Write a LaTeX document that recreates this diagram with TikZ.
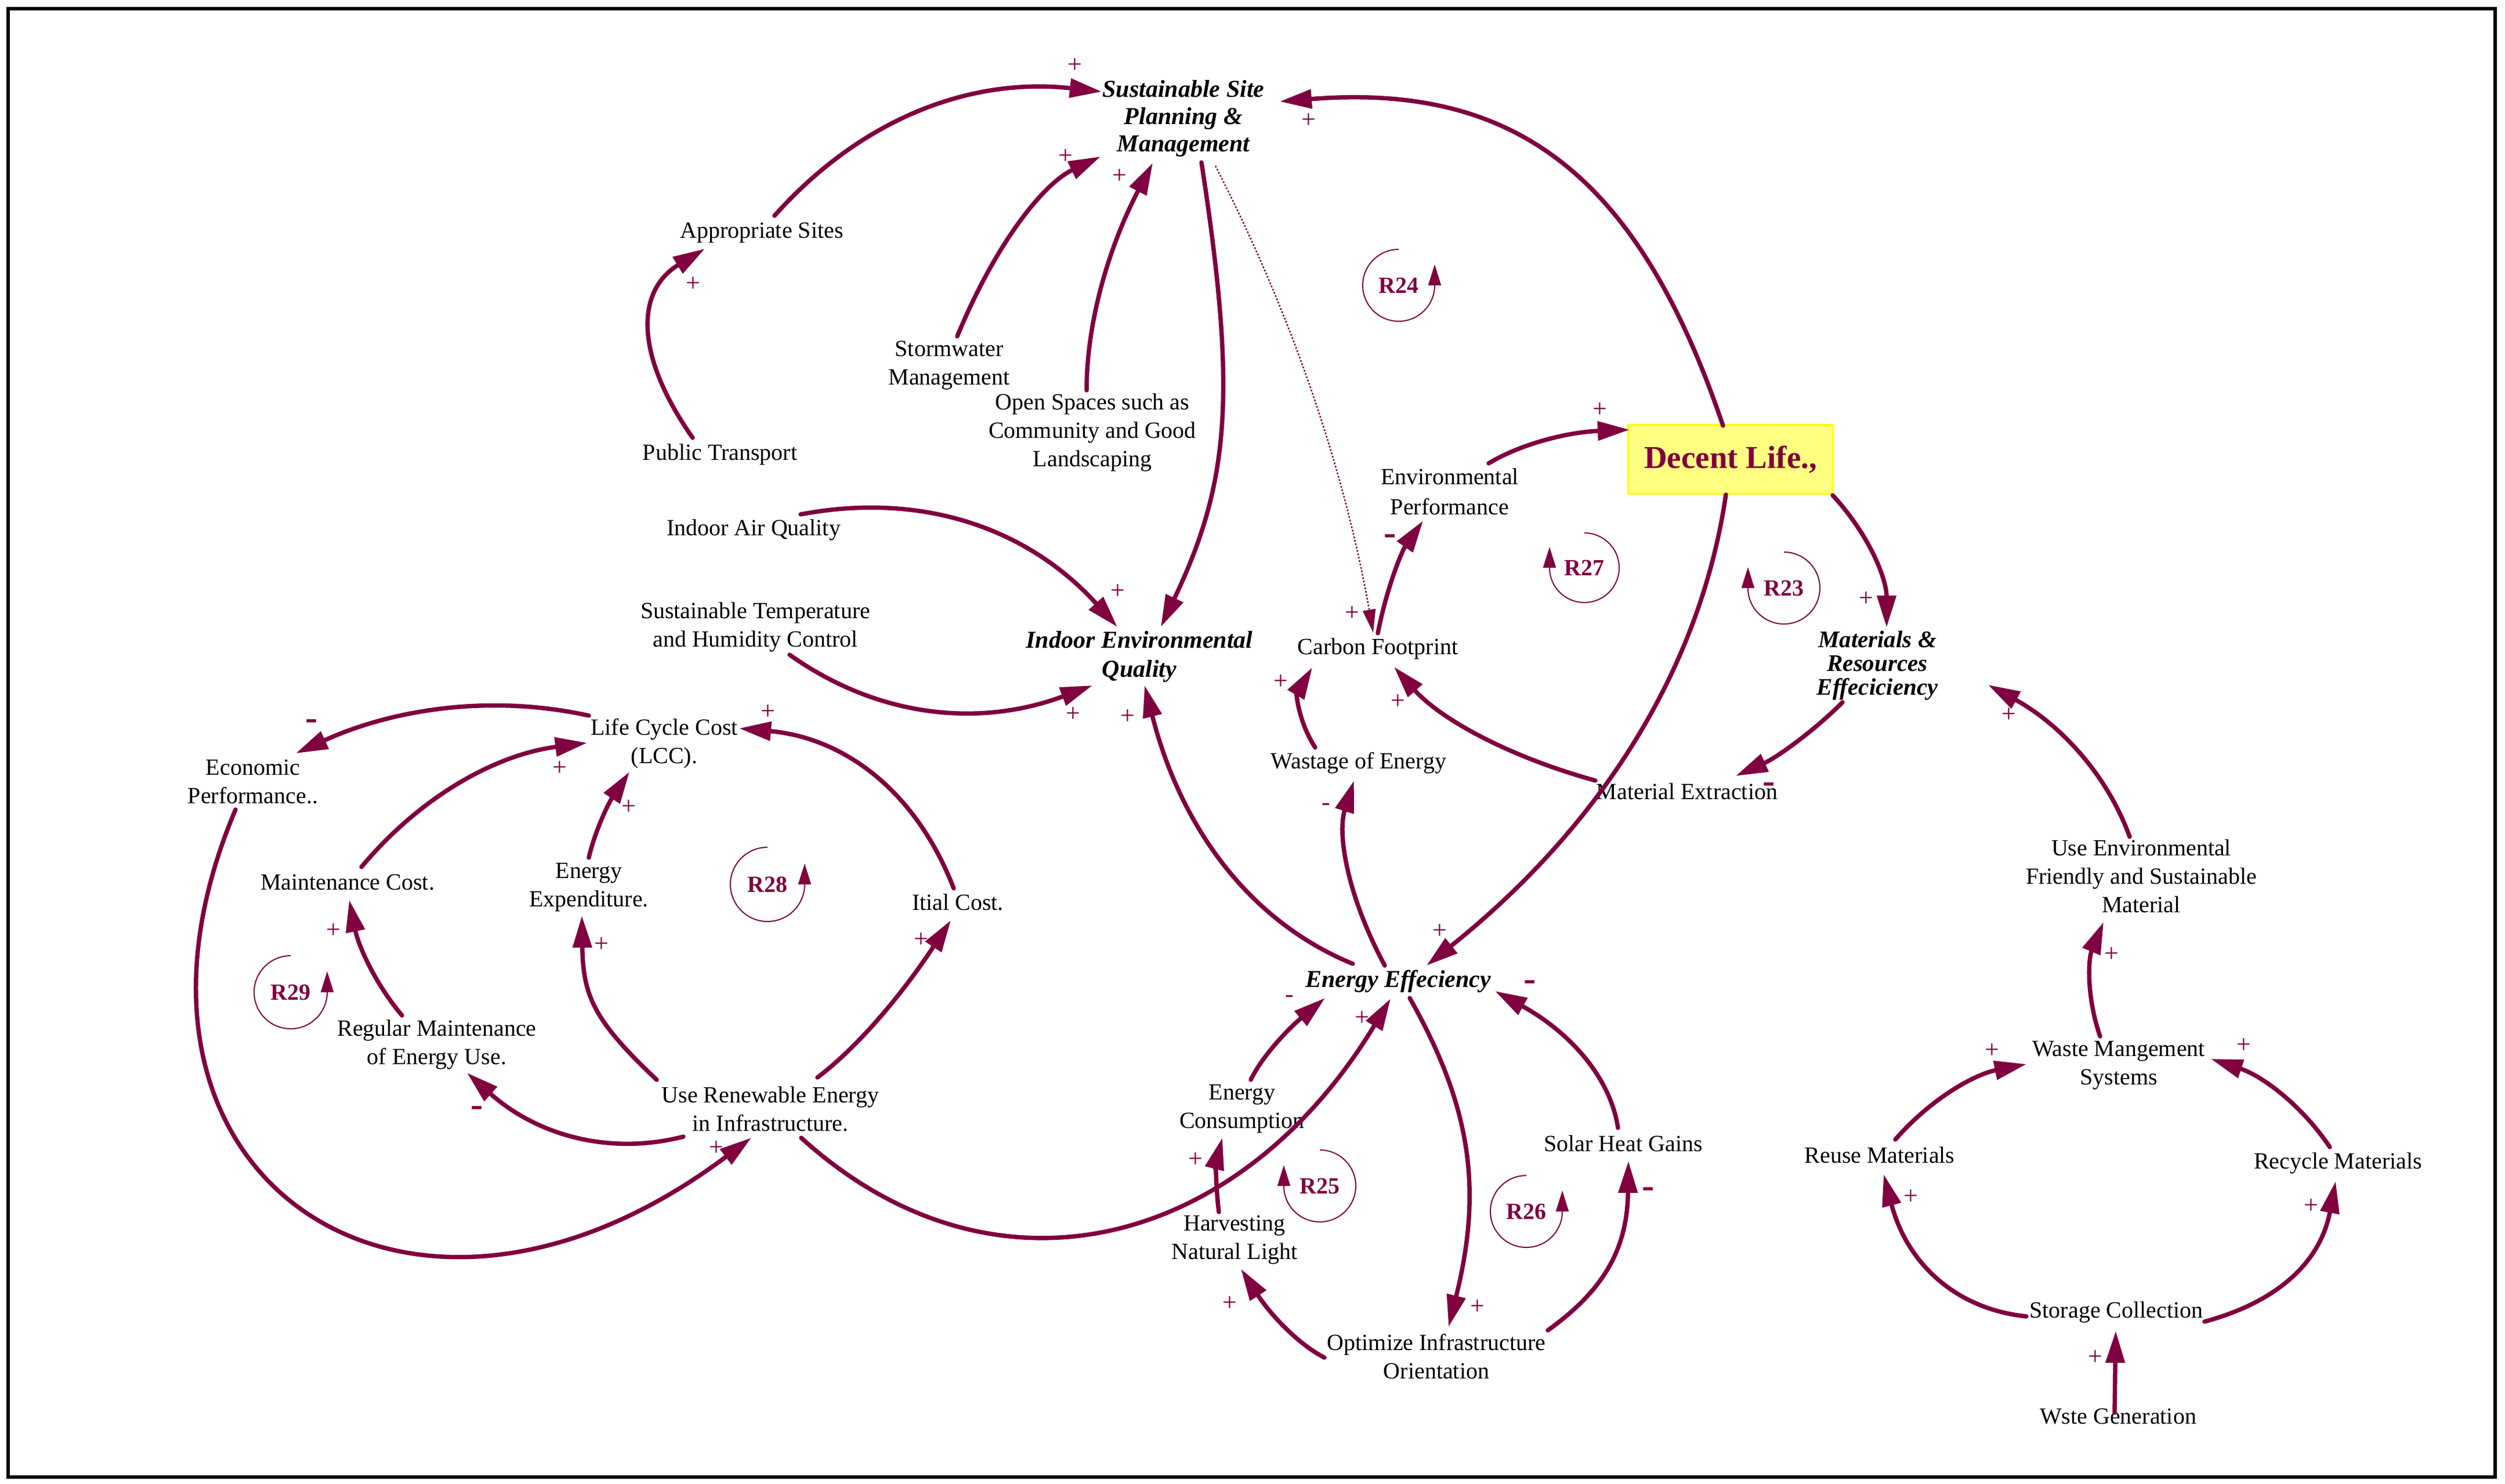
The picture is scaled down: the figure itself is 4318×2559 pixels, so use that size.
\documentclass[tikz,border=0pt]{standalone}
\usepackage{fontspec}
\setmainfont{Liberation Serif}
\usetikzlibrary{arrows.meta,calc}
\definecolor{vc}{RGB}{128,0,64}
\definecolor{yb}{RGB}{255,255,0}
\definecolor{yf}{RGB}{255,255,128}
\begin{document}
\begin{tikzpicture}[x=1pt,y=-1pt,
  lbl/.style={font=\fontsize{40}{49}\selectfont, align=center, inner sep=0pt},
  keyv/.style={font=\fontsize{42}{47}\selectfont\bfseries\itshape, align=center, inner sep=0pt},
  pol/.style={text=vc, font=\fontsize{44}{44}\selectfont, inner sep=0pt},
  negb/.style={text=vc, font=\fontsize{64}{64}\selectfont\bfseries, inner sep=0pt},
  arr/.style={draw=vc, line width=7.5pt, line cap=round, -{Triangle[length=55pt,width=32pt]}},
  dotarr/.style={draw=vc, line width=2.5pt, dash pattern=on 3pt off 3pt, -{Triangle[length=40pt,width=22pt]}},
  loopc/.style={draw=vc, line width=2pt, -{Triangle[length=36pt,width=22pt]}},
  looplbl/.style={text=vc, font=\fontsize{40}{40}\selectfont\bfseries, inner sep=0pt},
]
\useasboundingbox (0,0) rectangle (4318,2559);
\fill[white] (0,0) rectangle (4318,2559);
\draw[line width=6pt] (14,15) rectangle (4301,2547);

% ---- nodes ----
\node[keyv] (ss) at (2040,204) {Sustainable Site\\Planning \&\\Management};
\node[lbl] (as) at (1313,402) {Appropriate Sites};
\node[lbl] (pt) at (1241,784) {Public Transport};
\node[lbl] (sw) at (1636,630) {Stormwater\\Management};
\node[lbl] (os) at (1883,746) {Open Spaces such as\\Community and Good\\Landscaping};
\node[lbl] (iaq) at (1299,914) {Indoor Air Quality};
\node[lbl] (sthc) at (1302,1081) {Sustainable Temperature\\and Humidity Control};
\node[keyv, font=\fontsize{42}{50}\selectfont\bfseries\itshape] (ieq) at (1964,1132) {Indoor Environmental\\Quality};
\node[lbl] (cf) at (2375,1119) {Carbon Footprint};
\node[lbl, font=\fontsize{40}{52}\selectfont] (ep) at (2499,848) {Environmental\\Performance};
\node[draw=yb, fill=yf, line width=3pt, minimum width=353pt, minimum height=119pt, inner sep=0pt,
      text=vc, font=\fontsize{55}{60}\selectfont\bfseries] (dl) at (2983,792) {Decent Life.,};
\node[keyv, font=\fontsize{41}{41}\selectfont\bfseries\itshape] (mr) at (3236,1148) {Materials \&\\Resources\\Effeciciency};
\node[lbl] (me) at (2908,1365) {Material Extraction};
\node[lbl] (we) at (2342,1316) {Wastage of Energy};
\node[lbl] (lcc) at (1145,1282) {Life Cycle Cost\\(LCC).};
\node[lbl] (ecp) at (436,1348) {Economic\\Performance..};
\node[lbl] (mc) at (599,1522) {Maintenance Cost.};
\node[lbl] (rm) at (753,1801) {Regular Maintenance\\of Energy Use.};
\node[lbl] (ex) at (1015,1530) {Energy\\Expenditure.};
\node[lbl] (ic) at (1651,1556) {Itial Cost.};
\node[lbl] (ur) at (1328,1912) {Use Renewable Energy\\in Infrastructure.};
\node[keyv] (ee) at (2410,1692) {Energy Effeciency};
\node[lbl] (ec) at (2141,1912) {Energy\\Consumption};
\node[lbl] (hn) at (2128,2138) {Harvesting\\Natural Light};
\node[lbl] (oi) at (2476,2339) {Optimize Infrastructure\\Orientation};
\node[lbl] (sh) at (2798,1972) {Solar Heat Gains};
\node[lbl] (ue) at (3691,1511) {Use Environmental\\Friendly and Sustainable\\Material};
\node[lbl] (wm) at (3652,1837) {Waste Mangement\\Systems};
\node[lbl] (rum) at (3240,1992) {Reuse Materials};
\node[lbl] (rcm) at (4030,2006) {Recycle Materials};
\node[lbl] (sc) at (3648,2263) {Storage Collection};
\node[lbl] (wg) at (3651,2443) {Wste Generation};

% ---- connectors ----
\draw[arr] ($(as)+(22,-30)$) .. controls (1485,204) and (1673,133) .. ($(ss)+(-141,-46)$);
\draw[arr] ($(dl)+(-13,-58)$) .. controls (2823,299) and (2609,143) .. ($(ss)+(166,-29)$);
\draw[arr] ($(sw)+(14,-50)$) .. controls (1716,420) and (1798,317) .. ($(ss)+(-143,66)$);
\draw[arr] ($(os)+(-10,-73)$) .. controls (1873,556) and (1911,426) .. ($(ss)+(-53,77)$);
\draw[arr] ($(pt)+(-47,-29)$) .. controls (1091,608) and (1098,500) .. ($(as)+(-98,27)$);
\draw[arr] ($(ss)+(31,76)$) .. controls (2133,682) and (2119,833) .. ($(ieq)+(37,-51)$);
\draw[dotarr] ($(ss)+(55,82)$) .. controls (2227,543) and (2318,812) .. ($(cf)+(-8,-28)$);
\draw[arr] ($(ep)+(67,-49)$) .. controls (2624,764) and (2705,745) .. ($(dl)+(-174,-51)$);
\draw[arr] ($(cf)+(0,-27)$) .. controls (2390,1015) and (2416,951) .. ($(ep)+(-46,50)$);
\draw[arr] ($(dl)+(176,62)$) .. controls (3221,921) and (3252,997) .. ($(mr)+(16,-66)$);
\draw[arr] ($(mr)+(-60,63)$) .. controls (3123,1264) and (3061,1307) .. ($(me)+(84,-27)$);
\draw[arr] ($(me)+(-158,-19)$) .. controls (2598,1304) and (2482,1239) .. ($(cf)+(28,31)$);
\draw[arr] ($(we)+(-75,-27)$) .. controls (2237,1242) and (2235,1196) .. ($(cf)+(-113,32)$);
\draw[arr] ($(ee)+(-23,-27)$) .. controls (2322,1544) and (2305,1438) .. ($(we)+(-8,30)$);
\draw[arr] ($(dl)+(-8,61)$) .. controls (2931,1154) and (2759,1425) .. ($(ee)+(49,-27)$);
\draw[arr] ($(ue)+(-20,-68)$) .. controls (3632,1335) and (3550,1248) .. ($(mr)+(191,33)$);
\draw[arr] ($(lcc)+(-130,-48)$) .. controls (852,1198) and (684,1220) .. ($(ecp)+(74,-49)$);
\draw[arr] ($(mc)+(24,-27)$) .. controls (726,1372) and (856,1301) .. ($(lcc)+(-133,-1)$);
\draw[arr] ($(rm)+(-60,-50)$) .. controls (648,1698) and (618,1632) .. ($(mc)+(3,30)$);
\draw[arr] ($(ur)+(-150,48)$) .. controls (1049,1993) and (925,1957) .. ($(rm)+(52,49)$);
\draw[arr] ($(ex)+(0,-51)$) .. controls (1024,1438) and (1047,1388) .. ($(lcc)+(-60,49)$);
\draw[arr] ($(ur)+(-196,-50)$) .. controls (1024,1760) and (1005,1718) .. ($(ex)+(-12,49)$);
\draw[arr] ($(ic)+(-7,-24)$) .. controls (1579,1364) and (1455,1272) .. ($(lcc)+(129,-26)$);
\draw[arr] ($(ur)+(81,-54)$) .. controls (1478,1806) and (1554,1716) .. ($(ic)+(-12,31)$);
\draw[arr] ($(ecp)+(-30,48)$) .. controls (141,2022) and (695,2412) .. ($(ur)+(-33,50)$);
\draw[arr] ($(ur)+(53,50)$) .. controls (1714,2264) and (2137,2152) .. ($(ee)+(-13,30)$);
\draw[arr] ($(ee)+(-78,-30)$) .. controls (2156,1590) and (2036,1430) .. ($(ieq)+(9,50)$);
\draw[arr] ($(iaq)+(81,-27)$) .. controls (1591,847) and (1773,912) .. ($(ieq)+(-38,-51)$);
\draw[arr] ($(sthc)+(59,48)$) .. controls (1513,1237) and (1687,1255) .. ($(ieq)+(-81,50)$);
\draw[arr] ($(ec)+(15,-50)$) .. controls (2173,1826) and (2215,1779) .. ($(ee)+(-126,29)$);
\draw[arr] ($(hn)+(-27,-48)$) .. controls (2095,2043) and (2097,2001) .. ($(ec)+(-34,50)$);
\draw[arr] ($(ee)+(20,29)$) .. controls (2538,1912) and (2555,2054) .. ($(oi)+(21,-51)$);
\draw[arr] ($(oi)+(-193,2)$) .. controls (2238,2318) and (2190,2267) .. ($(hn)+(11,50)$);
\draw[arr] ($(oi)+(192,-45)$) .. controls (2770,2221) and (2805,2148) .. ($(sh)+(9,30)$);
\draw[arr] ($(sh)+(-9,-27)$) .. controls (2776,1858) and (2706,1780) .. ($(ee)+(167,17)$);
\draw[arr] ($(wm)+(-32,-50)$) .. controls (3597,1721) and (3599,1655) .. ($(ue)+(-65,79)$);
\draw[arr] ($(rum)+(27,-27)$) .. controls (3327,1896) and (3402,1853) .. ($(wm)+(-159,-2)$);
\draw[arr] ($(rcm)+(-14,-28)$) .. controls (3967,1905) and (3899,1855) .. ($(wm)+(159,-11)$);
\draw[arr] ($(sc)+(-155,7)$) .. controls (3368,2257) and (3286,2175) .. ($(rum)+(7,33)$);
\draw[arr] ($(sc)+(152,16)$) .. controls (3933,2243) and (4001,2171) .. ($(rcm)+(-4,31)$);
\draw[arr] ($(wg)+(-6,-7)$) -- ($(sc)+(-1,32)$);

% ---- polarities ----
\node[pol] (p1) at (1853,113) {+};
\node[pol] (p2) at (2256,208) {+};
\node[pol] (p3) at (1837,270) {+};
\node[pol] (p4) at (1930,304) {+};
\node[pol] (p5) at (1195,490) {+};
\node[pol] (p7) at (2331,1058) {+};
\node[pol] (p8) at (2758,707) {+};
\node[pol] (p10) at (3217,1033) {+};
\node[pol] (p12) at (2410,1210) {+};
\node[pol] (p13) at (2208,1176) {+};
\node[pol] (p15) at (2482,1606) {+};
\node[pol] (p16) at (3463,1233) {+};
\node[pol] (p18) at (965,1325) {+};
\node[pol] (p19) at (575,1605) {+};
\node[pol] (p21) at (1084,1392) {+};
\node[pol] (p22) at (1037,1629) {+};
\node[pol] (p23) at (1324,1228) {+};
\node[pol] (p24) at (1588,1621) {+};
\node[pol] (p25) at (1235,1980) {+};
\node[pol] (p26) at (2348,1756) {+};
\node[pol] (p27) at (1944,1236) {+};
\node[pol] (p28) at (1927,1020) {+};
\node[pol] (p29) at (1850,1232) {+};
\node[pol] (p31) at (2061,2000) {+};
\node[pol] (p32) at (2547,2254) {+};
\node[pol] (p33) at (2120,2248) {+};
\node[pol] (p36) at (3640,1646) {+};
\node[pol] (p37) at (3434,1812) {+};
\node[pol] (p38) at (3868,1803) {+};
\node[pol] (p39) at (3294,2064) {+};
\node[pol] (p40) at (3984,2080) {+};
\node[pol] (p41) at (3612,2341) {+};
\node[negb] (n9) at (2396,931) {-};
\node[negb] (n11) at (3049,1359) {-};
\node[negb] (n17) at (537,1250) {-};
\node[negb] (n20) at (822,1917) {-};
\node[negb] (n34) at (2841,2057) {-};
\node[negb] (n35) at (2637,1700) {-};
\node[pol] (n14) at (2286,1391) {-};
\node[pol] (n30) at (2223,1722) {-};

% ---- loop markers ----
\node[looplbl] (r24) at (2411,492) {R24};
\draw[loopc] ([yshift=62pt]r24.center) arc[start angle=90,end angle=360,radius=62pt] -- ++(0pt,36pt);
\node[looplbl] (r28) at (1323,1525) {R28};
\draw[loopc] ([yshift=64pt]r28.center) arc[start angle=90,end angle=360,radius=64pt] -- ++(0pt,36pt);
\node[looplbl] (r29) at (501,1711) {R29};
\draw[loopc] ([yshift=63pt]r29.center) arc[start angle=90,end angle=360,radius=63pt] -- ++(0pt,36pt);
\node[looplbl] (r26) at (2631,2089) {R26};
\draw[loopc] ([yshift=62pt]r26.center) arc[start angle=90,end angle=360,radius=62pt] -- ++(0pt,36pt);
\node[looplbl] (r27) at (2731,979) {R27};
\draw[loopc] ([yshift=60pt]r27.center) arc[start angle=90,end angle=-180,radius=60pt] -- ++(0pt,36pt);
\node[looplbl] (r23) at (3075,1014) {R23};
\draw[loopc] ([yshift=62pt]r23.center) arc[start angle=90,end angle=-180,radius=62pt] -- ++(0pt,36pt);
\node[looplbl] (r25) at (2275,2045) {R25};
\draw[loopc] ([yshift=62pt]r25.center) arc[start angle=90,end angle=-180,radius=62pt] -- ++(0pt,36pt);
\end{tikzpicture}
\end{document}
